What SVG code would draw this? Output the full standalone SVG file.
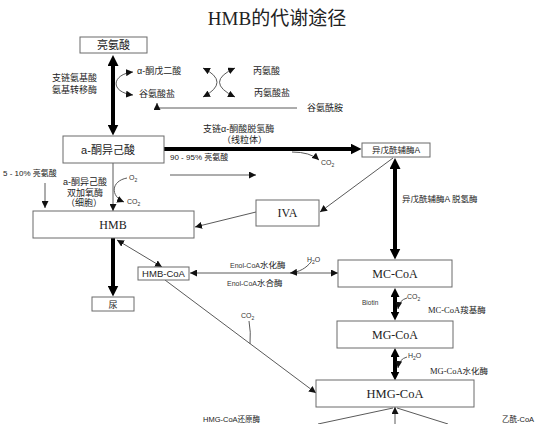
<svg xmlns="http://www.w3.org/2000/svg" width="556" height="424" viewBox="0 0 556 424">
<style>
.box{fill:#fff;stroke:#6a6a6a;stroke-width:1}
.thin{fill:none;stroke:#5a5a5a;stroke-width:1}
.thick{fill:none;stroke:#000;stroke-width:4}
.cjk{font-family:"Liberation Sans","Noto Sans CJK SC",sans-serif;fill:#222}
.ser{font-family:"Liberation Serif","Noto Sans CJK SC",serif;fill:#222}
.sm{font-family:"Liberation Sans",sans-serif;fill:#333;font-size:7px}
</style>
<defs>
<marker id="big" viewBox="0 0 10 10" refX="5" refY="5" markerWidth="11" markerHeight="11" markerUnits="userSpaceOnUse" orient="auto-start-reverse"><path d="M0,0 L10,5 L0,10 z" fill="#000"/></marker>
<marker id="mid" viewBox="0 0 10 10" refX="5" refY="5" markerWidth="9" markerHeight="9" markerUnits="userSpaceOnUse" orient="auto-start-reverse"><path d="M0,0 L10,5 L0,10 z" fill="#000"/></marker>
<marker id="sa" viewBox="0 0 10 10" refX="10" refY="5" markerWidth="7" markerHeight="7" markerUnits="userSpaceOnUse" orient="auto-start-reverse"><path d="M0,0 L10,5 L0,10 z" fill="#111"/></marker>
</defs>

<text class="ser" x="277" y="25" font-size="19" text-anchor="middle">HMB的代谢途径</text>

<g id="connectors">
<line class="thick" x1="113" y1="60.5" x2="113" y2="130" marker-start="url(#big)" marker-end="url(#big)"/>
<path class="thin" d="M133,72 C112,74 109,92 133,95" marker-start="url(#sa)" marker-end="url(#sa)"/>
<path class="thin" d="M203,68 Q231,82 203,97" marker-start="url(#sa)" marker-end="url(#sa)"/>
<path class="thin" d="M235,68 Q204,82 235,97" marker-start="url(#sa)" marker-end="url(#sa)"/>
<path class="thin" d="M297,108 H157 V103" marker-end="url(#sa)"/>
<line class="thick" x1="164" y1="149" x2="356" y2="149" marker-end="url(#big)"/>
<path class="thin" d="M292,152 Q310,152 319,160" marker-end="url(#sa)"/>
<line class="thin" x1="170" y1="175" x2="256" y2="175" marker-end="url(#sa)"/>
<line class="thin" x1="45" y1="183" x2="45" y2="208" marker-end="url(#sa)"/>
<line class="thin" x1="113" y1="163" x2="113" y2="211" marker-end="url(#sa)"/>
<path class="thin" d="M127,178 C111,181 110,196 124,202" marker-end="url(#sa)"/>
<line class="thin" x1="393" y1="158" x2="320" y2="212" marker-end="url(#sa)"/>
<line class="thin" x1="256" y1="212" x2="195" y2="227" marker-end="url(#sa)"/>
<line class="thick" x1="395" y1="163.5" x2="395" y2="254" marker-start="url(#big)" marker-end="url(#big)"/>
<line class="thick" x1="113" y1="238" x2="113" y2="291" marker-end="url(#big)"/>
<line class="thin" x1="117" y1="240" x2="162" y2="267" marker-start="url(#sa)" marker-end="url(#sa)"/>
<line class="thin" x1="190" y1="273" x2="338" y2="273" marker-start="url(#sa)" marker-end="url(#sa)"/>
<path class="thin" d="M311,262 C306,268 300,272 290,273" marker-end="url(#sa)"/>
<line class="thin" x1="165" y1="280" x2="316" y2="393" marker-end="url(#sa)"/>
<path class="thin" d="M249,321 Q251,332 250,344"/>
<line class="thick" x1="395" y1="292.5" x2="395" y2="316" marker-start="url(#mid)" marker-end="url(#mid)"/>
<path class="thin" d="M407,298 Q399,300 398,309" marker-end="url(#sa)"/>
<line class="thick" x1="395" y1="352.5" x2="395" y2="376" marker-start="url(#mid)" marker-end="url(#mid)"/>
<path class="thin" d="M407,357 Q399,359 398,368" marker-end="url(#sa)"/>
<line class="thin" x1="395" y1="424" x2="395" y2="407" marker-end="url(#sa)"/>
<line class="thin" x1="393" y1="408" x2="318" y2="424"/>
<line class="thin" x1="397" y1="408" x2="448" y2="424"/>
</g>

<g id="leucine"><rect class="box" x="80" y="37" width="67" height="16"/><text class="cjk" x="113.5" y="49" font-size="11" text-anchor="middle">亮氨酸</text></g>
<g id="kic"><rect class="box" x="63" y="136" width="101" height="27"/><text class="cjk" x="108" y="154" font-size="11" text-anchor="middle">a-酮异己酸</text></g>
<g id="ivcoa"><rect class="box" x="362" y="143" width="68" height="14"/><text class="cjk" x="396" y="153" font-size="8.5" text-anchor="middle">异戊酰辅酶A</text></g>
<g id="iva"><rect class="box" x="256" y="200" width="63" height="26"/><text class="ser" x="287.5" y="217" font-size="12" text-anchor="middle">IVA</text></g>
<g id="hmb"><rect class="box" x="33" y="211" width="161" height="27"/><text class="ser" x="113" y="229" font-size="12" text-anchor="middle">HMB</text></g>
<g id="hmbcoa"><rect class="box" x="138" y="267" width="51" height="13"/><text x="163.5" y="277" font-family="Liberation Sans,sans-serif" font-size="9.5" fill="#222" text-anchor="middle">HMB-CoA</text></g>
<g id="urine"><rect class="box" x="92" y="297" width="42" height="14"/><text class="cjk" x="113" y="308" font-size="9" text-anchor="middle">尿</text></g>
<g id="mccoa"><rect class="box" x="338" y="260" width="114" height="27"/><text class="ser" x="395" y="278" font-size="12" text-anchor="middle">MC-CoA</text></g>
<g id="mgcoa"><rect class="box" x="337" y="321" width="116" height="27"/><text class="ser" x="395" y="339" font-size="12" text-anchor="middle">MG-CoA</text></g>
<g id="hmgcoa"><rect class="box" x="316" y="380" width="158" height="27"/><text class="ser" x="395" y="398" font-size="12.5" text-anchor="middle">HMG-CoA</text></g>

<g id="labels" class="cjk" font-size="9">
<text x="52" y="81">支链氨基酸</text>
<text x="52" y="93">氨基转移酶</text>
<text x="137" y="74">α-酮戊二酸</text>
<text x="139" y="97">谷氨酸盐</text>
<text x="253" y="74">丙氨酸</text>
<text x="254" y="96">丙氨酸盐</text>
<text x="307" y="111">谷氨酰胺</text>
<text x="203" y="132">支链α-酮酸脱氢酶</text>
<text x="222" y="143">（线粒体）</text>
<text x="170" y="160" font-size="8">90 - 95% 亮氨酸</text>
<text x="3" y="176" font-size="8">5 - 10% 亮氨酸</text>
<text x="63" y="185">a-酮异己酸</text>
<text x="67" y="196">双加氧酶</text>
<text x="66" y="206">（细胞）</text>
<text x="402" y="202" font-size="8.5">异戊酰辅酶A 脱氢酶</text>
<text x="230" y="268" font-size="8.5"><tspan class="sm" font-size="6.5">Enol-CoA</tspan>水化酶</text>
<text x="227" y="286" font-size="8.5"><tspan class="sm" font-size="6.5">Enol-CoA</tspan>水合酶</text>
<text x="428" y="313" font-size="8.5"><tspan class="ser" font-size="8.5">MC-CoA</tspan>羧基酶</text>
<text x="430" y="374" font-size="8.5"><tspan class="ser" font-size="8.5">MG-CoA</tspan>水化酶</text>
<text x="203" y="421.5" font-size="7.5">HMG-CoA还原酶</text>
<text x="502" y="421.5" font-size="7.5">乙酰-CoA</text>
</g>
<g id="small" class="sm">
<text x="129" y="180">O<tspan font-size="5" dy="1.5">2</tspan></text>
<text x="127" y="204">CO<tspan font-size="5" dy="1.5">2</tspan></text>
<text x="321" y="165">CO<tspan font-size="5" dy="1.5">2</tspan></text>
<text x="307" y="262">H<tspan font-size="5" dy="1.5">2</tspan><tspan dy="-1.5">O</tspan></text>
<text x="241" y="318">CO<tspan font-size="5" dy="1.5">2</tspan></text>
<text x="362" y="305" font-size="6.5">Biotin</text>
<text x="407" y="299">CO<tspan font-size="5" dy="1.5">2</tspan></text>
<text x="408" y="358">H<tspan font-size="5" dy="1.5">2</tspan><tspan dy="-1.5">O</tspan></text>
</g>
</svg>
